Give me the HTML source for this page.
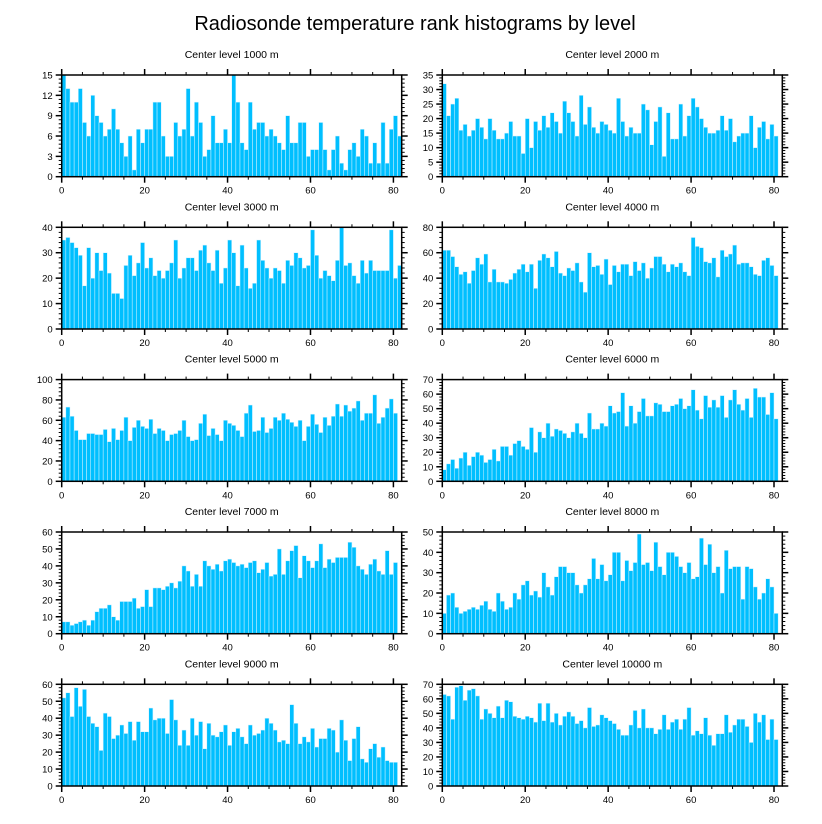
<!DOCTYPE html>
<html><head><meta charset="utf-8"><style>
html,body{margin:0;padding:0;background:#fff;}
svg{display:block;font-family:"Liberation Sans",sans-serif;}
</style></head><body>
<svg id="chart" width="822" height="824" viewBox="0 0 822 824" xmlns="http://www.w3.org/2000/svg">
<rect x="0" y="0" width="822" height="824" fill="#fff"/>
<text x="415" y="30" font-size="20" text-anchor="middle" fill="#000">Radiosonde temperature rank histograms by level</text>
</svg>
<script>
const levels = ["1000","2000","3000","4000","5000","6000","7000","8000","9000","10000"];
const yMaxes = [15,35,40,80,100,70,60,50,60,70];
const ySteps = [3,5,10,20,20,10,10,10,10,10];
const xTicks = [0,20,40,60,80];
const counts1000 = [15,13,11,11,13,8,6,12,9,8,6,7,10,7,5,3,6,1,7,5,7,7,11,11,6,3,3,8,6,7,13,6,11,8,3,4,9,5,5,7,5,15,11,5,4,11,7,8,8,6,7,6,5,4,9,5,5,8,8,3,4,4,8,4,1,4,6,2,1,4,5,3,7,6,2,5,2,8,2,7,9,6];
const counts2000 = [32,21,25,27,16,18,14,16,20,17,13,20,16,13,13,15,19,14,14,8,20,10,19,16,21,17,22,19,15,26,22,19,14,28,18,24,17,15,19,18,16,15,27,19,14,17,15,15,25,23,11,19,24,7,22,13,13,25,14,21,27,24,20,17,15,15,16,21,16,20,12,14,15,15,21,10,17,19,13,18,14];
const counts3000 = [35,36,34,32,29,17,32,20,30,23,30,22,14,14,12,25,29,21,26,34,24,28,21,23,20,23,26,35,20,24,28,28,23,31,33,26,23,31,18,24,35,30,17,33,24,16,18,35,27,24,20,24,23,18,27,25,30,28,24,25,39,29,20,23,21,19,27,40,25,26,21,18,27,22,27,23,23,23,23,39,20,25];
const counts4000 = [62,62,57,49,43,45,36,46,56,51,59,37,47,37,37,36,39,44,47,51,45,51,32,54,59,56,49,61,44,42,48,46,52,37,29,60,49,50,43,55,35,50,45,51,51,42,53,46,52,40,48,57,57,51,45,51,49,52,45,42,72,65,64,53,52,56,41,62,57,59,66,51,52,52,49,43,42,54,56,50,42];
const counts5000 = [63,73,64,50,41,41,47,47,46,46,51,39,52,41,50,63,40,53,60,54,52,61,47,52,50,40,46,47,50,60,44,40,41,57,66,45,52,46,40,60,57,55,50,44,67,75,49,50,63,48,52,63,60,67,61,58,54,60,40,54,66,56,48,63,55,64,76,64,75,69,72,79,60,67,67,85,57,63,72,81,67];
const counts6000 = [8,12,15,9,16,20,11,17,20,18,13,15,22,14,24,24,18,26,28,24,22,37,20,34,30,40,31,36,35,33,30,34,40,33,30,47,36,36,40,38,52,47,48,61,38,52,40,48,57,45,45,54,53,48,48,52,53,57,50,52,63,49,43,59,51,56,51,59,44,56,63,53,49,57,44,64,58,58,46,61,43];
const counts7000 = [7,7,5,6,7,8,5,8,13,15,15,17,10,8,19,19,19,21,15,16,26,16,27,27,26,28,30,27,31,40,37,28,35,28,43,40,38,41,37,43,44,42,40,41,39,42,43,36,38,42,34,35,50,35,43,49,52,33,46,43,39,43,53,39,44,42,45,45,45,54,51,40,38,35,41,44,37,35,49,35,42];
const counts8000 = [10,19,20,13,10,11,12,13,12,14,16,12,11,20,16,12,13,20,17,24,26,19,21,18,30,23,19,28,33,33,30,30,24,20,24,27,37,27,34,26,29,40,40,26,36,31,35,49,34,35,31,45,33,29,40,40,38,33,30,35,27,28,47,34,44,30,33,20,41,32,33,33,17,33,32,23,17,20,27,23,10];
const counts9000 = [52,55,41,58,47,57,41,37,35,21,43,41,28,30,36,31,38,27,38,32,32,46,39,40,40,31,51,39,24,33,24,40,30,38,22,37,30,29,32,36,24,32,34,29,25,36,30,31,33,40,37,33,26,27,25,48,37,25,29,26,34,23,28,28,34,33,20,39,27,15,28,35,16,14,22,25,17,23,15,14,14];
const counts10000 = [63,62,46,68,69,59,66,67,62,46,53,50,47,55,47,59,58,48,47,46,48,47,44,57,45,57,44,50,42,48,51,48,43,45,40,54,41,42,49,47,45,43,39,35,35,42,52,40,53,40,40,36,39,49,39,44,46,39,46,54,35,38,36,47,35,28,36,36,49,37,42,46,46,41,30,50,44,49,32,46,32];
const allCounts = [counts1000,counts2000,counts3000,counts4000,counts5000,counts6000,counts7000,counts8000,counts9000,counts10000];

const NS = "http://www.w3.org/2000/svg";
const svg = document.getElementById("chart");
function mk(tag, attrs, parent){
  const e = document.createElementNS(NS, tag);
  for (const k in attrs) e.setAttribute(k, attrs[k]);
  (parent||svg).appendChild(e);
  return e;
}
const X_MAX = 82;
const PW = 340, PH = 101.7;
const lefts = [61.7, 442.3];
const tops = [75, 227.3, 379.6, 532, 684.3];

for (let p = 0; p < 10; p++) {
  const L = lefts[p%2], T = tops[Math.floor(p/2)];
  const yMax = yMaxes[p], step = ySteps[p], data = allCounts[p];
  const xs = v => L + v / X_MAX * PW;
  const ys = v => T + PH - v / yMax * PH;
  const g = mk("g", {});
  
  
  const t = mk("text", {x: L + PW/2, y: T - 17, "font-size": 10.5, "text-anchor": "middle", fill: "#000"}, g);
  t.textContent = "Center level " + levels[p] + " m";
  
  
  // bars
  data.forEach((v, i) => {
    const r = mk("rect", {x: xs(i), y: ys(v), width: xs(i+1) - xs(i), height: ys(0) - ys(v), fill: "#00bfff", stroke: "#d8f3ff", "stroke-width": 0.5}, g);
    
    
  });
  // frame
  const f = mk("rect", {x: L, y: T, width: PW, height: PH, fill: "none", stroke: "#000", "stroke-width": 1.5}, g);
  
  
  // x ticks
  for (let v = 0; v <= X_MAX; v += 5) {
    const major = v % 20 === 0;
    const len = major ? 6 : 3;
    const x = xs(v);
    mk("line", {x1: x, x2: x, y1: T + PH, y2: T + PH + len, stroke: "#000", "stroke-width": major ? 1.5 : 1}, g);
    mk("line", {x1: x, x2: x, y1: T, y2: T - len, stroke: "#000", "stroke-width": major ? 1.5 : 1}, g);
  }
  xTicks.forEach(v => {
    const tl = mk("text", {x: xs(v), y: T + PH + 17, "font-size": 9.5, "text-anchor": "middle", fill: "#000"}, g);
    tl.textContent = v;
    
    
  });
  // y ticks
  const minor = step / 5;
  for (let k = 0; k * minor <= yMax + 1e-9; k++) {
    const v = k * minor;
    const major = k % 5 === 0;
    const len = major ? 6 : 3;
    const y = ys(v);
    mk("line", {x1: L, x2: L - len, y1: y, y2: y, stroke: "#000", "stroke-width": major ? 1.5 : 1}, g);
    mk("line", {x1: L + PW, x2: L + PW + len, y1: y, y2: y, stroke: "#000", "stroke-width": major ? 1.5 : 1}, g);
  }
  for (let v = 0; v <= yMax + 1e-9; v += step) {
    const tl = mk("text", {x: L - 9, y: ys(v) + 3.5, "font-size": 9.5, "text-anchor": "end", fill: "#000"}, g);
    tl.textContent = v;
    
    
  }
}
</script>
</body></html>
